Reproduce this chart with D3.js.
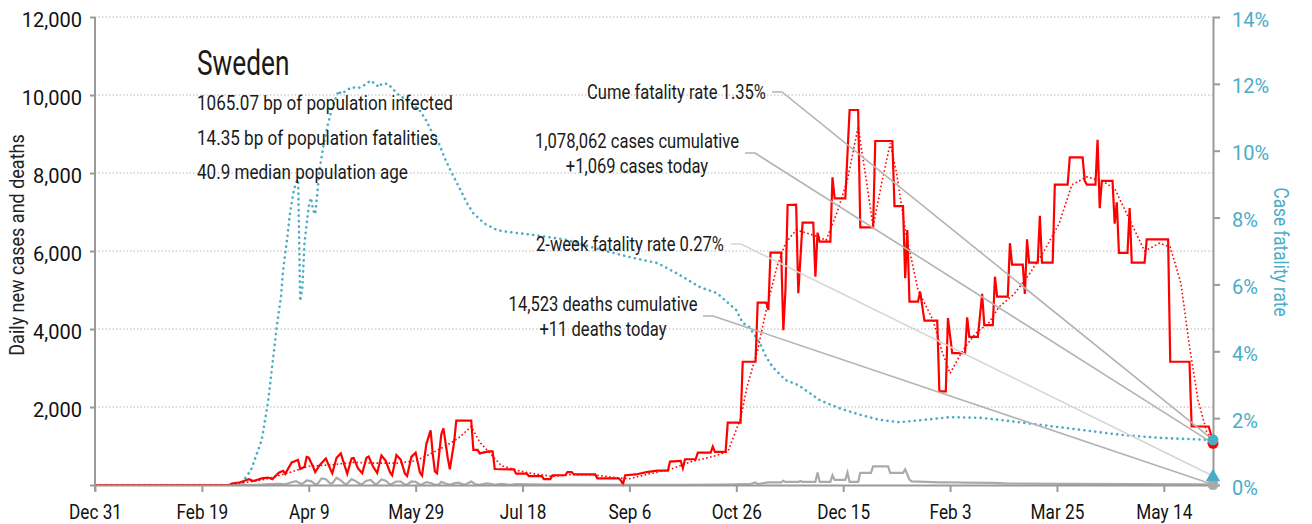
<!DOCTYPE html>
<html>
<head>
<meta charset="utf-8">
<script src="https://cdn.jsdelivr.net/npm/d3@7"></script>
<style>
  body { margin: 0; background: #fff; }
  svg text { font-family: "Liberation Sans Narrow", "Arial Narrow", "Roboto", sans-serif; }
</style>
</head>
<body>
<svg id="main"></svg>
<script>
//--------data----------
const casesDaily = [
  ["2019-12-31",0],["2020-03-03",0],["2020-03-04",40],["2020-03-08",70],["2020-03-12",150],["2020-03-14",100],
  ["2020-03-18",170],["2020-03-21",190],["2020-03-23",150],["2020-03-26",315],["2020-03-28",365],["2020-03-29",285],
  ["2020-04-01",580],["2020-04-04",640],["2020-04-05",414],["2020-04-07",463],["2020-04-08",720],["2020-04-09",700],
  ["2020-04-11",470],["2020-04-12",330],["2020-04-14",500],["2020-04-16",620],["2020-04-17",680],["2020-04-19",420],
  ["2020-04-20",300],["2020-04-22",700],["2020-04-24",810],["2020-04-26",460],["2020-04-27",290],["2020-04-29",680],
  ["2020-04-30",690],["2020-05-02",430],["2020-05-04",300],["2020-05-06",700],["2020-05-07",730],["2020-05-09",480],
  ["2020-05-11",310],["2020-05-13",760],["2020-05-15",620],["2020-05-17",330],["2020-05-18",250],["2020-05-20",770],
  ["2020-05-22",650],["2020-05-24",290],["2020-05-25",230],["2020-05-27",720],["2020-05-29",830],["2020-05-31",320],
  ["2020-06-01",240],["2020-06-03",1050],["2020-06-05",1400],["2020-06-06",800],["2020-06-07",350],["2020-06-08",300],
  ["2020-06-10",1300],["2020-06-11",1450],["2020-06-13",700],["2020-06-14",400],["2020-06-16",1100],["2020-06-17",1650],
  ["2020-06-24",1650],["2020-06-25",900],["2020-06-27",900],["2020-06-28",810],["2020-07-02",860],["2020-07-04",860],
  ["2020-07-05",410],["2020-07-14",400],["2020-07-15",290],["2020-07-20",290],["2020-07-21",230],["2020-07-27",230],
  ["2020-07-28",150],["2020-07-31",150],["2020-08-01",250],["2020-08-07",250],["2020-08-08",330],["2020-08-10",330],
  ["2020-08-11",270],["2020-08-21",270],["2020-08-22",170],["2020-09-01",170],["2020-09-02",120],["2020-09-03",20],
  ["2020-09-04",250],["2020-09-09",270],["2020-09-14",330],["2020-09-19",370],["2020-09-24",370],["2020-09-25",600],
  ["2020-09-30",620],["2020-10-01",430],["2020-10-02",660],["2020-10-07",660],["2020-10-08",830],["2020-10-14",830],
  ["2020-10-15",985],["2020-10-16",850],["2020-10-21",850],["2020-10-22",1600],["2020-10-28",1600],["2020-10-29",3160],
  ["2020-11-04",3160],["2020-11-05",4675],["2020-11-09",4675],["2020-11-10",4490],["2020-11-11",5960],["2020-11-16",5960],
  ["2020-11-17",3970],["2020-11-18",5000],["2020-11-19",7180],["2020-11-23",7190],["2020-11-24",4920],["2020-11-26",6726],
  ["2020-12-01",6726],["2020-12-02",5340],["2020-12-03",6470],["2020-12-04",6240],["2020-12-09",6240],["2020-12-10",7890],
  ["2020-12-11",7350],["2020-12-16",7350],["2020-12-18",9615],["2020-12-22",9615],["2020-12-23",6607],["2020-12-29",6607],
  ["2020-12-30",8820],["2021-01-07",8820],["2021-01-08",7150],["2021-01-12",7150],["2021-01-13",5300],["2021-01-14",6540],
  ["2021-01-15",4700],["2021-01-19",4700],["2021-01-20",4960],["2021-01-22",4213],["2021-01-28",4213],["2021-01-29",2400],
  ["2021-02-01",2400],["2021-02-02",4280],["2021-02-04",3380],["2021-02-10",3380],["2021-02-11",4300],["2021-02-12",3800],
  ["2021-02-16",3800],["2021-02-18",4900],["2021-02-19",4100],["2021-02-23",4100],["2021-02-24",5340],["2021-02-25",4830],
  ["2021-03-02",4830],["2021-03-03",6200],["2021-03-04",5650],["2021-03-09",5650],["2021-03-10",4900],["2021-03-11",6300],
  ["2021-03-12",5700],["2021-03-16",5700],["2021-03-17",6900],["2021-03-18",5700],["2021-03-23",5700],["2021-03-24",7700],
  ["2021-03-30",7700],["2021-03-31",8400],["2021-04-06",8400],["2021-04-07",7800],["2021-04-08",7700],["2021-04-12",7700],
  ["2021-04-13",8850],["2021-04-14",7100],["2021-04-15",7800],["2021-04-20",7800],["2021-04-21",6700],["2021-04-22",7250],
  ["2021-04-23",5950],["2021-04-27",5950],["2021-04-28",7100],["2021-04-29",5700],["2021-05-05",5700],["2021-05-06",6300],
  ["2021-05-16",6300],["2021-05-17",3160],["2021-05-26",3160],["2021-05-27",1500],["2021-06-04",1500],["2021-06-05",1300],
  ["2021-06-06",1069]
];

// 7-day average of new cases
const casesAvg = [
  ["2019-12-31",0],["2020-03-01",0],["2020-03-10",60],["2020-03-20",150],["2020-03-31",320],["2020-04-09",480],
  ["2020-04-20",520],["2020-04-30",580],["2020-05-10",560],["2020-05-20",560],["2020-05-29",620],["2020-06-05",800],
  ["2020-06-12",1000],["2020-06-18",1200],["2020-06-24",1500],["2020-06-28",1100],["2020-07-03",800],["2020-07-08",500],
  ["2020-07-15",380],["2020-07-22",300],["2020-08-01",220],["2020-08-10",270],["2020-08-20",260],["2020-09-01",180],
  ["2020-09-06",160],["2020-09-15",280],["2020-09-25",400],["2020-10-05",600],["2020-10-15",730],["2020-10-22",850],
  ["2020-10-28",1700],["2020-10-31",2520],["2020-11-05",3460],["2020-11-09",4490],["2020-11-14",5600],["2020-11-18",6200],
  ["2020-11-23",6540],["2020-11-28",6460],["2020-12-03",6370],["2020-12-07",6280],["2020-12-12",6970],["2020-12-17",7820],
  ["2020-12-22",9190],["2020-12-26",7740],["2020-12-29",6620],["2021-01-02",7740],["2021-01-06",8760],["2021-01-09",7990],
  ["2021-01-13",6540],["2021-01-19",5000],["2021-01-26",4230],["2021-01-30",3460],["2021-02-03",2860],["2021-02-09",3460],
  ["2021-02-15",3890],["2021-02-21",4150],["2021-02-26",4570],["2021-03-05",4900],["2021-03-12",5400],["2021-03-19",6000],
  ["2021-03-26",6700],["2021-04-01",7700],["2021-04-08",7900],["2021-04-15",7800],["2021-04-21",7600],["2021-04-28",6800],
  ["2021-05-05",6000],["2021-05-12",6200],["2021-05-17",6100],["2021-05-22",5170],["2021-05-26",3550],["2021-05-30",2180],
  ["2021-06-03",1370],["2021-06-06",1100]
];

const deathsDaily = [
  ["2019-12-31",0],["2020-03-10",0],["2020-03-16",5],["2020-03-22",20],["2020-03-26",30],["2020-03-29",15],
  ["2020-04-01",70],["2020-04-03",100],["2020-04-05",40],["2020-04-06",30],["2020-04-08",115],["2020-04-10",100],
  ["2020-04-12",20],["2020-04-13",20],["2020-04-15",170],["2020-04-17",150],["2020-04-19",40],["2020-04-20",40],
  ["2020-04-22",185],["2020-04-24",120],["2020-04-26",20],["2020-04-27",40],["2020-04-29",150],["2020-05-01",100],
  ["2020-05-03",25],["2020-05-04",30],["2020-05-06",110],["2020-05-08",130],["2020-05-10",20],["2020-05-11",30],
  ["2020-05-13",140],["2020-05-15",110],["2020-05-17",10],["2020-05-18",30],["2020-05-20",90],["2020-05-22",90],
  ["2020-05-24",10],["2020-05-25",10],["2020-05-27",90],["2020-05-29",80],["2020-05-31",10],["2020-06-01",20],
  ["2020-06-03",75],["2020-06-05",50],["2020-06-07",5],["2020-06-09",20],["2020-06-10",80],["2020-06-12",40],
  ["2020-06-14",5],["2020-06-16",40],["2020-06-18",60],["2020-06-21",5],["2020-06-24",90],["2020-06-26",20],
  ["2020-06-28",5],["2020-07-01",40],["2020-07-03",30],["2020-07-05",2],["2020-07-08",30],["2020-07-12",2],
  ["2020-07-15",20],["2020-07-22",15],["2020-07-29",10],["2020-08-12",8],["2020-09-01",5],["2020-10-01",5],
  ["2020-10-20",10],["2020-11-01",20],["2020-11-04",65],["2020-11-05",25],["2020-11-10",65],["2020-11-16",65],
  ["2020-11-17",110],["2020-11-18",80],["2020-11-24",80],["2020-11-25",100],["2020-11-26",80],["2020-12-02",80],
  ["2020-12-03",320],["2020-12-04",80],["2020-12-09",80],["2020-12-10",250],["2020-12-11",130],["2020-12-16",130],
  ["2020-12-17",320],["2020-12-18",80],["2020-12-22",80],["2020-12-23",310],["2020-12-28",310],["2020-12-29",480],
  ["2021-01-05",480],["2021-01-06",310],["2021-01-12",310],["2021-01-13",400],["2021-01-15",140],["2021-01-16",95],
  ["2021-01-29",65],["2021-02-02",70],["2021-02-10",60],["2021-02-23",55],["2021-03-01",40],["2021-04-01",30],
  ["2021-05-01",25],["2021-06-01",15],["2021-06-06",11]
];

// cumulative case fatality rate, percent
const fatalityRate = [
  ["2019-12-31",0],["2020-03-08",0],["2020-03-13",0.45],["2020-03-18",1.35],["2020-03-21",2.5],["2020-03-25",4.73],
  ["2020-03-27",5.63],["2020-03-28",6.43],["2020-03-30",7.43],["2020-03-31",8.03],["2020-04-02",8.82],["2020-04-04",9.22],
  ["2020-04-05",5.5],["2020-04-06",5.9],["2020-04-07",7.24],["2020-04-09",8.33],["2020-04-10",8.59],["2020-04-11",8.23],
  ["2020-04-12",8.1],["2020-04-13",8.73],["2020-04-14",9.42],["2020-04-16",10.2],["2020-04-18",10.8],["2020-04-20",11.3],
  ["2020-04-23",11.8],["2020-04-24",11.7],["2020-04-26",11.77],["2020-04-29",11.9],["2020-05-02",11.87],["2020-05-05",11.96],
  ["2020-05-08",12.1],["2020-05-10",12.0],["2020-05-12",11.9],["2020-05-13",12.0],["2020-05-16",12.0],["2020-05-18",11.87],
  ["2020-05-21",11.67],["2020-05-26",11.47],["2020-05-31",11.2],["2020-06-03",10.9],["2020-06-06",10.5],["2020-06-09",10.2],
  ["2020-06-12",9.72],["2020-06-15",9.32],["2020-06-19",8.82],["2020-06-22",8.43],["2020-06-25",8.13],["2020-06-30",7.83],
  ["2020-07-06",7.63],["2020-07-10",7.58],["2020-07-23",7.48],["2020-08-08",7.33],["2020-08-24",7.03],["2020-09-08",6.79],
  ["2020-09-19",6.64],["2020-09-28",6.34],["2020-10-09",5.92],["2020-10-17",5.74],["2020-10-26",5.23],["2020-10-29",4.85],
  ["2020-11-01",4.73],["2020-11-06",4.25],["2020-11-09",3.83],["2020-11-12",3.53],["2020-11-18",3.14],["2020-11-24",2.99],
  ["2020-12-04",2.54],["2020-12-13",2.3],["2020-12-23",2.1],["2021-01-01",1.95],["2021-01-10",1.88],["2021-01-19",1.93],
  ["2021-02-03",2.03],["2021-02-17",2.01],["2021-02-26",1.95],["2021-03-17",1.8],["2021-04-05",1.65],["2021-04-24",1.5],
  ["2021-05-12",1.41],["2021-05-31",1.36],["2021-06-06",1.35]
];

const xTickDates = ["2019-12-31","2020-02-19","2020-04-09","2020-05-29","2020-07-18","2020-09-06",
  "2020-10-26","2020-12-15","2021-02-03","2021-03-25","2021-05-14"];
const yTicks = [0, 2000, 4000, 6000, 8000, 10000, 12000];
const pctTicks = [0, 2, 4, 6, 8, 10, 12, 14];

const country = "Sweden";
const infoLines = ["1065.07 bp of population infected", "14.35 bp of population fatalities", "40.9 median population age"];

const lastCases = 1069, lastDeaths = 11, cumeRate = 1.35, twoWeekRate = 0.27;
const annotations = [
  {lines: ["Cume fatality rate 1.35%"], anchor: "end", tx: 766, ty: 99, lx: 772, ly: 92, axis: "pct", value: cumeRate, color: "#b3b3b3"},
  {lines: ["1,078,062 cases cumulative", "+1,069 cases today"], anchor: "middle", tx: 637, ty: 148, lx: 745, ly: 153, axis: "cases", value: lastCases, color: "#b3b3b3"},
  {lines: ["2-week fatality rate 0.27%"], anchor: "end", tx: 724, ty: 251, lx: 731, ly: 244, axis: "pct", value: twoWeekRate, color: "#d6d6d6"},
  {lines: ["14,523 deaths cumulative", "+11 deaths today"], anchor: "middle", tx: 603, ty: 311, lx: 703, ly: 316, axis: "cases", value: lastDeaths, color: "#b3b3b3"}
];

//--------code----------
const teal = '#4bacc6';
const narrow = 0.86; // horizontal squeeze, the original uses a condensed face
const width = 1312, height = 524;
const parse = d3.timeParse('%Y-%m-%d');
const toPts = arr => arr.map(d => ({date: parse(d[0]), value: d[1]}));

const svg = d3.select('#main')
  .attr('width', width)
  .attr('height', height)
  .style('background', '#fff');

const startDate = parse(xTickDates[0]);
const endDate = parse(casesDaily[casesDaily.length - 1][0]);
const sx = d3.scaleTime().domain([startDate, endDate]).range([95, 1213]);
const sy = d3.scaleLinear().domain([0, 12000]).range([485, 17]);
const sp = d3.scaleLinear().domain([0, 14]).range([485, 17]);

function label(x, y, str, size, k, extra){
  return svg.append('text')
    .attr('transform', `translate(${x},${y}) ${extra || ''} scale(${k},1)`)
    .style('font-size', size + 'px')
    .attr('fill', '#1a1a1a')
    .text(str);
}

// gridlines
svg.append('g')
  .selectAll('line')
  .data(yTicks.filter(d => d > 0))
  .join('line')
  .attr('x1', sx.range()[0]).attr('x2', sx.range()[1])
  .attr('y1', d => sy(d)).attr('y2', d => sy(d))
  .attr('stroke', '#b8b8b8')
  .attr('stroke-width', 1)
  .attr('stroke-dasharray', '1.5,2');

const lineCases = d3.line().x(d => sx(d.date)).y(d => sy(d.value));
const linePct = d3.line().x(d => sx(d.date)).y(d => sp(d.value));

svg.append('path')
  .datum(toPts(deathsDaily))
  .attr('d', lineCases)
  .attr('fill', 'none')
  .attr('stroke', '#aaa')
  .attr('stroke-width', 2.2);

svg.append('path')
  .datum(toPts(fatalityRate))
  .attr('d', linePct)
  .attr('fill', 'none')
  .attr('stroke', teal)
  .attr('stroke-width', 2.6)
  .attr('stroke-linecap', 'round')
  .attr('stroke-dasharray', '0.1,5.4');

svg.append('path')
  .datum(toPts(casesAvg))
  .attr('d', lineCases)
  .attr('fill', 'none')
  .attr('stroke', 'red')
  .attr('stroke-width', 1.6)
  .attr('stroke-dasharray', '1.6,2.4');

svg.append('path')
  .datum(toPts(casesDaily))
  .attr('d', lineCases)
  .attr('fill', 'none')
  .attr('stroke', 'red')
  .attr('stroke-width', 2.2)
  .attr('stroke-linejoin', 'miter');

// axes
const axisColor = '#9a9a9a';
function styleAxis(g){
  g.select('.domain').attr('stroke', axisColor).attr('stroke-width', 2);
  g.selectAll('.tick line').attr('stroke', axisColor).attr('stroke-width', 2);
  g.selectAll('.tick text').style('font-size', '20px');
}

const gx = svg.append('g')
  .attr('transform', `translate(0,${sy(0)})`)
  .call(d3.axisBottom(sx)
    .tickValues(xTickDates.map(parse))
    .tickFormat(d3.timeFormat('%b %-d'))
    .tickSize(7).tickSizeOuter(0).tickPadding(13))
  .call(styleAxis);
gx.selectAll('.tick text').attr('fill', '#111').attr('transform', `scale(${narrow},1)`);

const gy = svg.append('g')
  .attr('transform', `translate(${sx.range()[0]},0)`)
  .call(d3.axisLeft(sy)
    .tickValues(yTicks)
    .tickFormat(d => d === 0 ? '' : d3.format(',')(d))
    .tickSize(5).tickSizeOuter(0).tickPadding(8))
  .call(styleAxis);
gy.selectAll('.tick text').attr('fill', '#111').attr('dy', '0.45em');
gy.select('.domain').attr('d', `M0,${sy(12000)}V${sy(0) + 6}`);

const gp = svg.append('g')
  .attr('transform', `translate(${sx.range()[1]},0)`)
  .call(d3.axisRight(sp)
    .tickValues(pctTicks)
    .tickFormat(d => d + '%')
    .tickSize(7).tickSizeOuter(0).tickPadding(12))
  .call(styleAxis);
gp.selectAll('.tick text').attr('fill', teal).attr('dy', '0.45em');

// axis titles
label(24, 245, 'Daily new cases and deaths', 20, 0.9, 'rotate(-90)')
  .attr('text-anchor', 'middle').attr('fill', '#222');
label(1274, 252, 'Case fatality rate', 20, narrow, 'rotate(90)')
  .attr('text-anchor', 'middle').attr('fill', teal);

// title block
label(197, 75, country, 35, 0.75);
infoLines.forEach((l, i) => label(197, 110 + i * 34.5, l, 19.5, 0.875));

// annotations with leader lines
const endX = sx(endDate);
for(let a of annotations){
  let ty = a.axis === 'pct' ? sp(a.value) : sy(a.value);
  svg.append('path')
    .attr('d', `M${a.lx},${a.ly}H${a.lx + 10}L${endX},${ty}`)
    .attr('fill', 'none')
    .attr('stroke', a.color)
    .attr('stroke-width', 1.6);
  let t = label(a.tx, a.ty, null, 19.5, 0.85).attr('text-anchor', a.anchor);
  a.lines.forEach((l, i) => {
    t.append('tspan').attr('x', 0).attr('y', i * 25).text(l);
  });
}

// end markers
svg.append('circle')
  .attr('cx', endX).attr('cy', sy(lastDeaths)).attr('r', 5.5)
  .attr('fill', '#aaa');
svg.append('path')
  .attr('d', d3.symbol(d3.symbolTriangle, 90)())
  .attr('transform', `translate(${endX},${sp(twoWeekRate) + 1})`)
  .attr('fill', teal);
svg.append('circle')
  .attr('cx', endX).attr('cy', sy(lastCases)).attr('r', 5.5)
  .attr('fill', 'red');
svg.append('circle')
  .attr('cx', endX).attr('cy', sp(cumeRate)).attr('r', 5.5)
  .attr('fill', teal);
</script>
</body>
</html>
